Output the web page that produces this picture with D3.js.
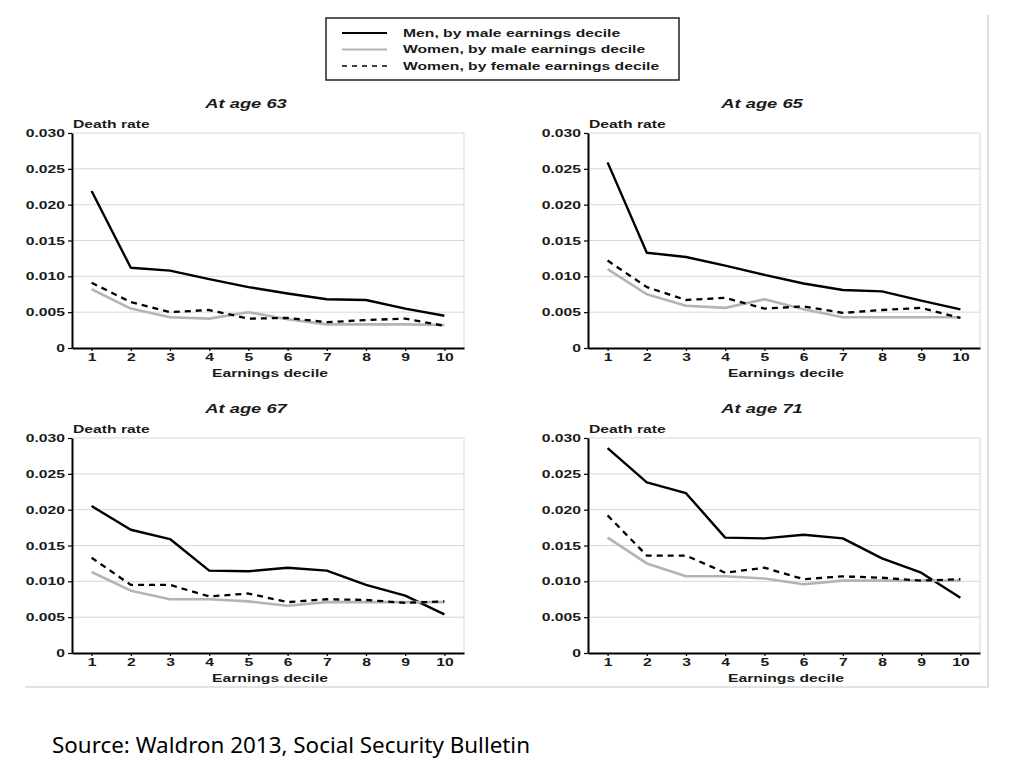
<!DOCTYPE html>
<html>
<head>
<meta charset="utf-8">
<script src="https://cdn.jsdelivr.net/npm/d3@7"></script>
<style>
  html, body { margin: 0; padding: 0; background: #fff; }
</style>
</head>
<body>
<script>
// chart data
const deciles = [1, 2, 3, 4, 5, 6, 7, 8, 9, 10]
const ages = [63, 65, 67, 71]
const yTicks = [0, 0.005, 0.010, 0.015, 0.020, 0.025, 0.030]
const yTickLabels = ['0', '0.005', '0.010', '0.015', '0.020', '0.025', '0.030']

const men63 = [0.0219, 0.0112, 0.0108, 0.0096, 0.0085, 0.0076, 0.0068, 0.0067, 0.0055, 0.0045]
const womenMale63 = [0.0082, 0.0055, 0.0043, 0.0041, 0.0050, 0.0040, 0.0033, 0.0033, 0.0033, 0.0032]
const womenFemale63 = [0.0091, 0.0064, 0.0050, 0.0053, 0.0041, 0.0042, 0.0036, 0.0039, 0.0041, 0.0031]

const men65 = [0.0259, 0.0133, 0.0127, 0.0115, 0.0102, 0.0090, 0.0081, 0.0079, 0.0066, 0.0054]
const womenMale65 = [0.0110, 0.0075, 0.0059, 0.0056, 0.0068, 0.0054, 0.0043, 0.0043, 0.0043, 0.0043]
const womenFemale65 = [0.0122, 0.0085, 0.0067, 0.0070, 0.0055, 0.0058, 0.0049, 0.0053, 0.0056, 0.0042]

const men67 = [0.0205, 0.0172, 0.0159, 0.0115, 0.0114, 0.0119, 0.0115, 0.0095, 0.0080, 0.0054]
const womenMale67 = [0.0113, 0.0087, 0.0075, 0.0075, 0.0072, 0.0066, 0.0071, 0.0071, 0.0071, 0.0071]
const womenFemale67 = [0.0133, 0.0095, 0.0095, 0.0079, 0.0083, 0.0071, 0.0075, 0.0074, 0.0070, 0.0072]

const men71 = [0.0286, 0.0238, 0.0223, 0.0161, 0.0160, 0.0165, 0.0160, 0.0132, 0.0112, 0.0077]
const womenMale71 = [0.0161, 0.0125, 0.0107, 0.0107, 0.0104, 0.0096, 0.0101, 0.0101, 0.0101, 0.0101]
const womenFemale71 = [0.0192, 0.0136, 0.0136, 0.0112, 0.0119, 0.0103, 0.0107, 0.0105, 0.0101, 0.0103]

const seriesNames = [
	'Men, by male earnings decile',
	'Women, by male earnings decile',
	'Women, by female earnings decile',
]

const panelSeries = [
	[men63, womenMale63, womenFemale63],
	[men65, womenMale65, womenFemale65],
	[men67, womenMale67, womenFemale67],
	[men71, womenMale71, womenFemale71],
]

// the source picture is stretched sideways, so text gets a horizontal scale
const SX = 1.57
const FONT = '"Liberation Sans", Arial, sans-serif'

const seriesStyle = [
	{ stroke: '#000', dash: null, width: 2.4 },
	{ stroke: '#b4b4b4', dash: null, width: 2.6 },
	{ stroke: '#000', dash: '6,5', width: 2.3 },
]

let width = 1024
let height = 768

let svg = d3.select('body').append('svg')
	.attr('width', width)
	.attr('height', height)
	.style('display', 'block')

function stretchedText(parent, x, y, str, opts) {
	opts = opts || {}
	return parent.append('text')
		.attr('transform', `translate(${x},${y}) scale(${opts.sx || SX},1)`)
		.attr('text-anchor', opts.anchor || 'start')
		.style('font-family', FONT)
		.style('font-size', (opts.size || 10) + 'px')
		.style('font-weight', '700')
		.style('font-style', opts.italic ? 'italic' : 'normal')
		.attr('fill', '#1a1a1a')
		.text(str)
}

// light frame of the pasted image
svg.append('line')
	.attr('x1', 988).attr('x2', 988).attr('y1', 15).attr('y2', 687)
	.attr('stroke', '#c8c8c8').attr('stroke-width', 1.2)
svg.append('line')
	.attr('x1', 25).attr('x2', 988).attr('y1', 687).attr('y2', 687)
	.attr('stroke', '#c8c8c8').attr('stroke-width', 1.2)

/**
 * Legend
 */
let legendG = svg.append('g').attr('transform', 'translate(326,18)')
legendG.append('rect')
	.attr('width', 353).attr('height', 62)
	.attr('fill', '#fff').attr('stroke', '#222').attr('stroke-width', 1.5)

seriesNames.forEach((name, i) => {
	let ly = 15 + i * 16.5
	legendG.append('line')
		.attr('x1', 16).attr('x2', 61)
		.attr('y1', ly).attr('y2', ly)
		.attr('stroke', seriesStyle[i].stroke)
		.attr('stroke-width', i == 2 ? 1.6 : 1.8)
		.attr('stroke-dasharray', i == 2 ? '5,5' : null)
	stretchedText(legendG, 77, ly + 3.5, name)
})

/**
 * Panels
 */
let panelPos = [
	{ left: 72, top: 133 },
	{ left: 588, top: 133 },
	{ left: 72, top: 438 },
	{ left: 588, top: 438 },
]
let plotW = 392
let plotH = 215

let x = d3.scaleLinear().domain([0.5, 10.5]).range([0, plotW])
let y = d3.scaleLinear().domain([0, 0.030]).range([plotH, 0])

let line = d3.line()
	.x((d, i) => x(deciles[i]))
	.y(d => y(d))

ages.forEach((age, p) => {
	let g = svg.append('g')
		.attr('transform', `translate(${panelPos[p].left},${panelPos[p].top})`)

	// grid
	g.selectAll('.grid')
		.data(yTicks.slice(1))
		.enter()
			.append('line')
			.attr('x1', 0).attr('x2', plotW)
			.attr('y1', d => y(d)).attr('y2', d => y(d))
			.attr('stroke', '#d8d8d8').attr('stroke-width', 1)
	g.append('line')
		.attr('x1', plotW).attr('x2', plotW)
		.attr('y1', 0).attr('y2', plotH)
		.attr('stroke', '#d8d8d8').attr('stroke-width', 1)

	// series
	panelSeries[p].forEach((values, s) => {
		g.append('path')
			.datum(values)
			.attr('d', line)
			.attr('fill', 'none')
			.attr('stroke', seriesStyle[s].stroke)
			.attr('stroke-width', seriesStyle[s].width)
			.attr('stroke-dasharray', seriesStyle[s].dash)
			.attr('stroke-linejoin', 'round')
	})

	// axes
	let yAxis = g.append('g')
		.call(d3.axisLeft(y)
			.tickValues(yTicks)
			.tickFormat((d, i) => yTickLabels[i])
			.tickSize(4)
			.tickSizeOuter(0))
	let xAxis = g.append('g')
		.attr('transform', `translate(0,${plotH})`)
		.call(d3.axisBottom(x)
			.tickValues(deciles)
			.tickFormat(d => d)
			.tickSize(3)
			.tickSizeOuter(0))

	;[yAxis, xAxis].forEach(ax => {
		ax.select('.domain').attr('stroke', '#000').attr('stroke-width', 2)
		ax.selectAll('.tick line').attr('stroke', '#000').attr('stroke-width', 1.2)
		ax.selectAll('text')
			.style('font-family', FONT)
			.style('font-size', '10px')
			.style('font-weight', '700')
			.attr('fill', '#1a1a1a')
	})
	yAxis.selectAll('text')
		.attr('x', -7 / SX)
		.attr('dy', '0.36em')
		.attr('transform', `scale(${SX},1)`)
	xAxis.selectAll('text')
		.attr('y', 6)
		.attr('transform', `scale(${SX},1)`)

	// labels
	stretchedText(g, 174, -25, 'At age ' + age, { anchor: 'middle', size: 12, italic: true, sx: 1.53 })
	stretchedText(g, 1, -5, 'Death rate')
	stretchedText(g, 198, plotH + 29, 'Earnings decile', { anchor: 'middle' })
})

// source note
svg.append('text')
	.attr('x', 52)
	.attr('y', 753)
	.attr('textLength', 478)
	.attr('lengthAdjust', 'spacingAndGlyphs')
	.style('font-family', '"Noto Sans", "Open Sans", sans-serif')
	.style('font-size', '21px')
	.attr('fill', '#000')
	.text('Source: Waldron 2013, Social Security Bulletin')
</script>
</body>
</html>
